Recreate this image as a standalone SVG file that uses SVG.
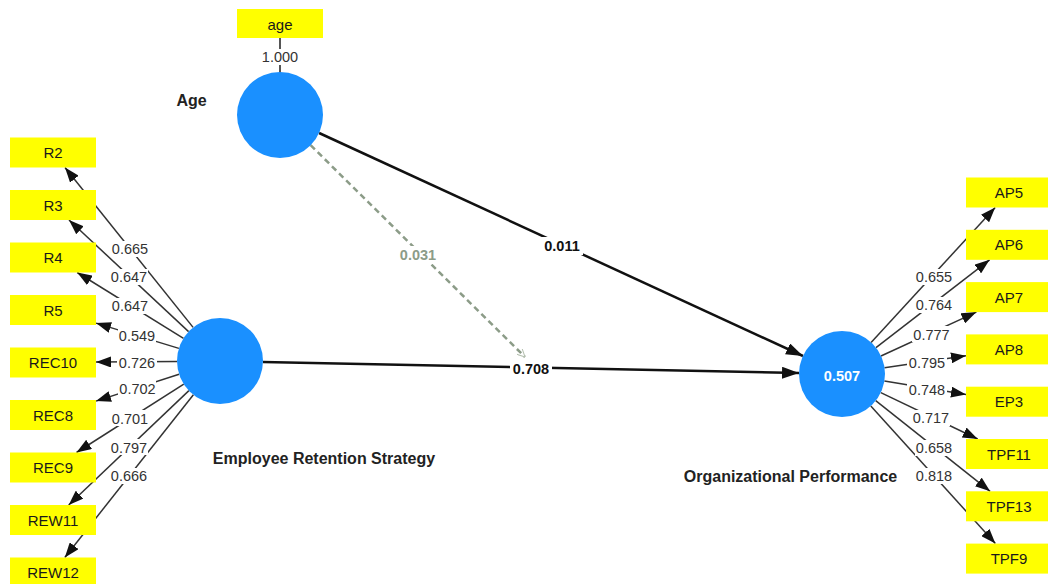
<svg xmlns="http://www.w3.org/2000/svg" width="1048" height="584" viewBox="0 0 1048 584">
  <style>
    .ind rect { fill: #ffff00; }
    .ind text { font-family: "Liberation Sans", Arial, sans-serif; font-size: 15px; fill: #1a1a1a; text-anchor: middle; dominant-baseline: central; }
    .lv circle { fill: #1a90ff; }
    .lv-name { font-family: "Liberation Sans", Arial, sans-serif; font-size: 16px; font-weight: bold; fill: #222; text-anchor: middle; dominant-baseline: central; }
    .r2 { font-family: "Liberation Sans", Arial, sans-serif; font-size: 14.5px; font-weight: bold; fill: #ffffff; text-anchor: middle; dominant-baseline: central; }
    .load { stroke: #333; stroke-width: 1.5; fill: none; marker-end: url(#ah-small); }
    .path { stroke: #111; stroke-width: 2.5; fill: none; marker-end: url(#ah-big); }
    .mod { stroke: #8c9c88; stroke-width: 2.5; fill: none; stroke-dasharray: 6 4; marker-end: url(#ah-open); }
    .lbl rect { fill: #ffffff; }
    .lbl text { font-family: "Liberation Sans", Arial, sans-serif; font-size: 14.5px; fill: #333; text-anchor: middle; dominant-baseline: central; }
    .lbl text.coef { font-weight: bold; fill: #111; }
    .lbl text.weak { font-weight: bold; fill: #8c9c88; }
  </style>
  <defs>
    <marker id="ah-small" viewBox="0 0 15 11" refX="15" refY="5.5" markerWidth="15" markerHeight="11" orient="auto" markerUnits="userSpaceOnUse">
      <path d="M0,0 L15,5.5 L0,11 z" fill="#111"/>
    </marker>
    <marker id="ah-big" viewBox="0 0 17 12" refX="17" refY="6" markerWidth="17" markerHeight="12" orient="auto" markerUnits="userSpaceOnUse">
      <path d="M0,0 L17,6 L0,12 z" fill="#111"/>
    </marker>
    <marker id="ah-open" viewBox="0 0 8 8" refX="8" refY="4" markerWidth="8" markerHeight="8" orient="auto" markerUnits="userSpaceOnUse">
      <path d="M0,0 L8,4 L0,8" fill="none" stroke="#b5c0b0" stroke-width="1"/>
    </marker>
  </defs>

  <rect width="1048" height="584" fill="#ffffff"/>

  <!-- connectors -->
  <g id="connectors">
    <!-- age item -->
    <line x1="280" y1="38" x2="280" y2="75" stroke="#555" stroke-width="2"/>

    <!-- Employee Retention Strategy loadings -->
    <line class="load" x1="193.1" y1="327.4" x2="65.0" y2="167.5"/>
    <line class="load" x1="188.6" y1="331.6" x2="69.0" y2="220"/>
    <line class="load" x1="183.5" y1="338.4" x2="77.2" y2="272.5"/>
    <line class="load" x1="178.9" y1="348.4" x2="96" y2="323.1"/>
    <line class="load" x1="177" y1="361.4" x2="96" y2="362.1"/>
    <line class="load" x1="179.1" y1="374.2" x2="96" y2="401.1"/>
    <line class="load" x1="183.8" y1="384.1" x2="76.5" y2="452.5"/>
    <line class="load" x1="188.9" y1="390.6" x2="68.7" y2="505"/>
    <line class="load" x1="193.4" y1="394.7" x2="64.8" y2="557.5"/>

    <!-- Organizational Performance loadings -->
    <line class="load" x1="871.1" y1="342.4" x2="995.2" y2="207.5"/>
    <line class="load" x1="876" y1="347.7" x2="989.6" y2="259.8"/>
    <line class="load" x1="881" y1="356" x2="976.4" y2="312.1"/>
    <line class="load" x1="884.5" y1="367.7" x2="966" y2="355.7"/>
    <line class="load" x1="884.4" y1="381" x2="966" y2="394.6"/>
    <line class="load" x1="880.8" y1="392.6" x2="977.7" y2="439"/>
    <line class="load" x1="875.7" y1="400.7" x2="990.1" y2="491.3"/>
    <line class="load" x1="870.8" y1="405.9" x2="995.4" y2="543.6"/>

    <!-- structural paths -->
    <line class="path" x1="319.1" y1="133" x2="803" y2="356"/>
    <line class="path" x1="263" y1="361.9" x2="799" y2="373.1"/>
    <line class="mod" x1="310.6" y1="145.2" x2="525" y2="357"/>

    <!-- labels -->
    <g class="lbl"><rect x="262" y="49" width="36" height="16"/><text x="280" y="57">1.000</text></g>

    <g class="lbl"><rect x="111" y="241" width="38" height="16"/><text x="130" y="249">0.665</text></g>
    <g class="lbl"><rect x="110" y="269" width="38" height="16"/><text x="129" y="277">0.647</text></g>
    <g class="lbl"><rect x="111" y="298" width="38" height="16"/><text x="130" y="306">0.647</text></g>
    <g class="lbl"><rect x="118" y="328" width="38" height="16"/><text x="137" y="336">0.549</text></g>
    <g class="lbl"><rect x="117" y="355" width="40" height="16"/><text x="137" y="363">0.726</text></g>
    <g class="lbl"><rect x="118" y="380" width="38" height="16"/><text x="137.5" y="388.5">0.702</text></g>
    <g class="lbl"><rect x="111" y="410" width="38" height="16"/><text x="130" y="418.5">0.701</text></g>
    <g class="lbl"><rect x="110" y="439" width="38" height="16"/><text x="129" y="447.5">0.797</text></g>
    <g class="lbl"><rect x="110" y="468" width="38" height="16"/><text x="129" y="476">0.666</text></g>

    <g class="lbl"><rect x="915" y="269" width="38" height="16"/><text x="934" y="277">0.655</text></g>
    <g class="lbl"><rect x="915" y="297" width="38" height="16"/><text x="934" y="305">0.764</text></g>
    <g class="lbl"><rect x="912" y="326" width="38" height="16"/><text x="931.5" y="334.5">0.777</text></g>
    <g class="lbl"><rect x="907" y="355" width="40" height="16"/><text x="927" y="363">0.795</text></g>
    <g class="lbl"><rect x="907" y="382" width="40" height="16"/><text x="927" y="390">0.748</text></g>
    <g class="lbl"><rect x="912" y="410" width="38" height="16"/><text x="931" y="418">0.717</text></g>
    <g class="lbl"><rect x="915" y="440" width="38" height="16"/><text x="934" y="448">0.658</text></g>
    <g class="lbl"><rect x="915" y="468" width="38" height="16"/><text x="934" y="476">0.818</text></g>

    <g class="lbl"><rect x="541" y="237" width="42" height="18"/><text class="coef" x="562" y="246">0.011</text></g>
    <g class="lbl"><rect x="397" y="246" width="42" height="18"/><text class="weak" x="418" y="255">0.031</text></g>
    <g class="lbl"><rect x="510" y="360" width="42" height="18"/><text class="coef" x="531" y="369">0.708</text></g>
  </g>

  <!-- latent variables -->
  <g id="lv-age" class="lv">
    <circle cx="280" cy="115" r="43"/>
    <text class="lv-name" x="191.5" y="100">Age</text>
  </g>
  <g id="lv-ers" class="lv">
    <circle cx="220" cy="361" r="43"/>
    <text class="lv-name" x="324" y="458">Employee Retention Strategy</text>
  </g>
  <g id="lv-op" class="lv">
    <circle cx="842" cy="374" r="43"/>
    <text class="r2" x="842" y="376">0.507</text>
    <text class="lv-name" x="790.5" y="476">Organizational Performance</text>
  </g>

  <!-- indicators -->
  <g id="ind-age" class="ind"><rect x="237" y="9" width="86" height="29"/><text x="280" y="24">age</text></g>

  <g id="ind-R2" class="ind"><rect x="10" y="137.5" width="86" height="30"/><text x="53" y="152.5">R2</text></g>
  <g id="ind-R3" class="ind"><rect x="10" y="190" width="86" height="30"/><text x="53" y="205">R3</text></g>
  <g id="ind-R4" class="ind"><rect x="10" y="242.5" width="86" height="30"/><text x="53" y="257.5">R4</text></g>
  <g id="ind-R5" class="ind"><rect x="10" y="295" width="86" height="30"/><text x="53" y="310">R5</text></g>
  <g id="ind-REC10" class="ind"><rect x="10" y="347.5" width="86" height="30"/><text x="53" y="362.5">REC10</text></g>
  <g id="ind-REC8" class="ind"><rect x="10" y="400" width="86" height="30"/><text x="53" y="415">REC8</text></g>
  <g id="ind-REC9" class="ind"><rect x="10" y="452.5" width="86" height="30"/><text x="53" y="467.5">REC9</text></g>
  <g id="ind-REW11" class="ind"><rect x="10" y="505" width="86" height="30"/><text x="53" y="520">REW11</text></g>
  <g id="ind-REW12" class="ind"><rect x="10" y="557.5" width="86" height="30"/><text x="53" y="572.5">REW12</text></g>

  <g id="ind-AP5" class="ind"><rect x="966" y="177.5" width="86" height="30"/><text x="1009" y="192.5">AP5</text></g>
  <g id="ind-AP6" class="ind"><rect x="966" y="229.8" width="86" height="30"/><text x="1009" y="244.8">AP6</text></g>
  <g id="ind-AP7" class="ind"><rect x="966" y="282.1" width="86" height="30"/><text x="1009" y="297.1">AP7</text></g>
  <g id="ind-AP8" class="ind"><rect x="966" y="334.4" width="86" height="30"/><text x="1009" y="349.4">AP8</text></g>
  <g id="ind-EP3" class="ind"><rect x="966" y="386.7" width="86" height="30"/><text x="1009" y="401.7">EP3</text></g>
  <g id="ind-TPF11" class="ind"><rect x="966" y="439" width="86" height="30"/><text x="1009" y="454">TPF11</text></g>
  <g id="ind-TPF13" class="ind"><rect x="966" y="491.3" width="86" height="30"/><text x="1009" y="506.3">TPF13</text></g>
  <g id="ind-TPF9" class="ind"><rect x="966" y="543.6" width="86" height="30"/><text x="1009" y="558.6">TPF9</text></g>
</svg>
